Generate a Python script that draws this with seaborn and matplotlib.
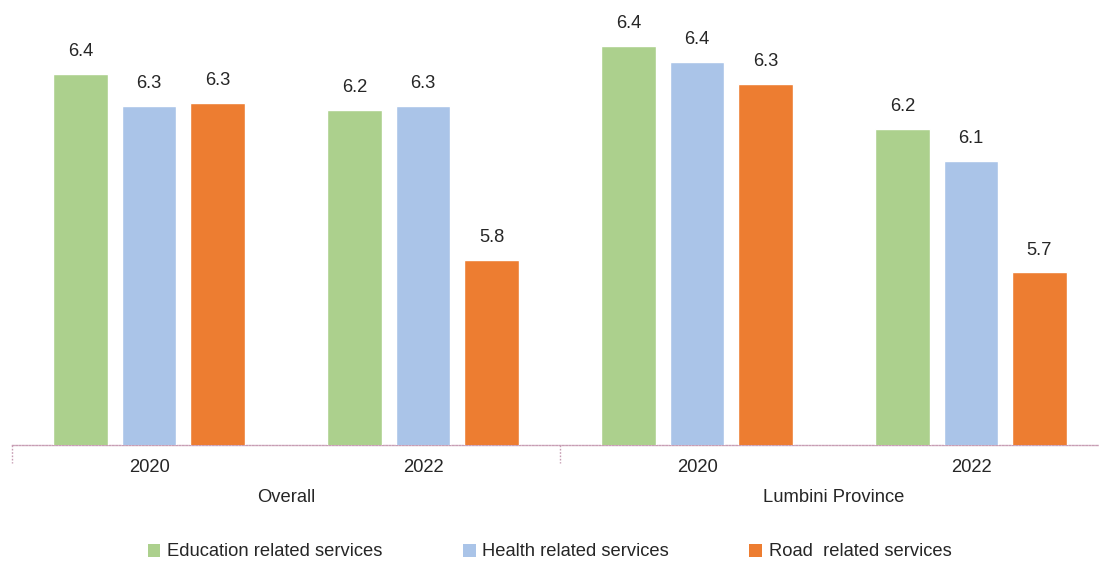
import matplotlib
matplotlib.use("Agg")
import matplotlib.pyplot as plt
import matplotlib.transforms as mtransforms
from matplotlib.patches import Patch
import seaborn as sns
import pandas as pd

# data
groups = ["Overall", "Lumbini Province"]
years = ["2020", "2022"]
services = ["Education related services", "Health related services", "Road  related services"]
colors = ["#acd08d", "#aac4e8", "#ed7d31"]

# bar heights per (group, year), in service order
education = [6.36, 6.25, 6.45, 6.19]
health = [6.26, 6.26, 6.40, 6.09]
road = [6.27, 5.78, 6.33, 5.74]
# value labels as printed on the chart
education_lbl = ["6.4", "6.2", "6.4", "6.2"]
health_lbl = ["6.3", "6.3", "6.4", "6.1"]
road_lbl = ["6.3", "5.8", "6.3", "5.7"]

cats = [f"{g} {y}" for g in groups for y in years]
rows = []
for svc, vals in zip(services, [education, health, road]):
    for c, v in zip(cats, vals):
        rows.append({"cat": c, "service": svc, "value": v})
df = pd.DataFrame(rows)

sns.set_style("white")
plt.rcParams["font.family"] = ["Liberation Sans", "DejaVu Sans"]
text_color = "#262626"
fs = 13.2
axis_color = "#c79db3"

fig = plt.figure(figsize=(10.99, 5.61), dpi=100)
ax = fig.add_axes([12 / 1099, 1 - 445 / 561, 1 - 12 / 1099, 435 / 561])

sns.barplot(data=df, x="cat", y="value", hue="service", order=cats,
            hue_order=services, palette=colors, width=0.75, gap=0.2,
            saturation=1, ax=ax, legend=False, zorder=3)

ax.set_ylim(5.2, 5.2 + 435 / 319.5)
ax.set_xlim(-0.5, -0.5 + 1087 / 274)

for cont, lbls in zip(ax.containers, [education_lbl, health_lbl, road_lbl]):
    ax.bar_label(cont, labels=lbls, padding=10, fontsize=fs, color=text_color)

# axes cosmetics
for s in ["top", "right", "left"]:
    ax.spines[s].set_visible(False)
ax.spines["bottom"].set_color(axis_color)
ax.spines["bottom"].set_linestyle((0, (1.2, 1.2)))
ax.spines["bottom"].set_linewidth(1.0)
ax.set_yticks([])
ax.set_xlabel("")
ax.set_ylabel("")
ax.set_xticks(range(len(cats)))
ax.set_xticklabels([y for g in groups for y in years], fontsize=fs, color=text_color)
ax.tick_params(axis="x", length=0, pad=10)

# group dividers and group names
trans = mtransforms.blended_transform_factory(ax.transData, ax.transAxes)
div_len = 18 / 435
for xd in [-0.5, 1.5]:
    ax.plot([xd, xd], [0, -div_len], transform=trans, color=axis_color,
            linestyle=(0, (1.2, 1.2)), linewidth=1.0, clip_on=False)
for i, g in enumerate(groups):
    ax.text(2 * i + 0.5, -52 / 435, g, transform=trans, ha="center", va="center",
            fontsize=fs, color=text_color)

handles = [Patch(facecolor=c, edgecolor="none", label=s) for c, s in zip(colors, services)]
fig.legend(handles=handles, loc="center", bbox_to_anchor=(0.5, 1 - 552 / 561), ncol=3,
           frameon=False, fontsize=fs, handlelength=0.7, handleheight=0.7,
           handletextpad=0.35, columnspacing=4.4, labelcolor=text_color)

fig.savefig("out.png", dpi=100)
